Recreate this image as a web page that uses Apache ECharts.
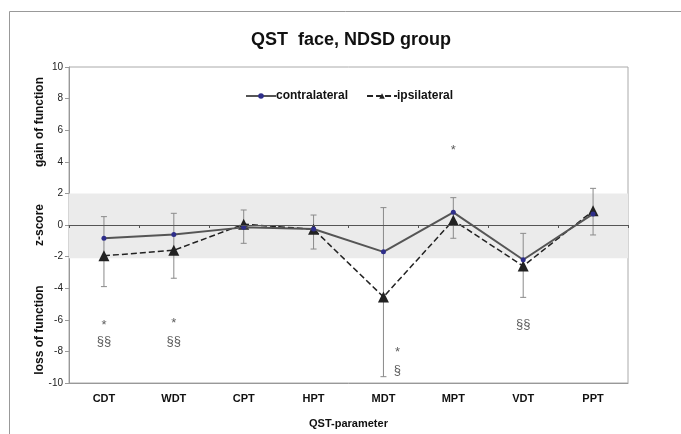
<!DOCTYPE html>
<html>
<head>
<meta charset="utf-8">
<script src="https://cdn.jsdelivr.net/npm/echarts@6/dist/echarts.min.js"></script>
<style>
html, body { margin: 0; padding: 0; background: #fff; }
#chart { width: 681px; height: 434px; }
</style>
</head>
<body>
<div id="chart"></div>
<script>
// QST parameters on the x axis
let categories = ['CDT', 'WDT', 'CPT', 'HPT', 'MDT', 'MPT', 'VDT', 'PPT'];
let yTicks = [-10, -8, -6, -4, -2, 0, 2, 4, 6, 8, 10];

// mean z-scores
let contralateral = [-0.84, -0.6, -0.15, -0.25, -1.7, 0.8, -2.2, 0.7];
let ipsilateral = [-1.95, -1.6, 0.05, -0.27, -4.55, 0.3, -2.6, 0.9];

// error bar ends
let errHigh = [0.53, 0.74, 0.95, 0.63, 1.1, 1.73, -0.53, 2.32];
let errLow = [-3.9, -3.37, -1.16, -1.52, -9.6, -0.84, -4.58, -0.63];

// normal range band
let normalBand = [2, -2.1];

// significance marks
let markCats = ['CDT', 'CDT', 'WDT', 'WDT', 'MDT', 'MDT', 'MPT', 'VDT'];
let markValues = [-6.35, -7.4, -6.2, -7.35, -8.05, -9.2, 4.75, -6.3];
let markTexts = ['*', '§§', '*', '§§', '*', '§', '*', '§§'];

let chart = echarts.init(document.getElementById('chart'));

let errData = categories.map(function (c, i) { return [i, errLow[i], errHigh[i]]; });
let markData = markCats.map(function (c, i) {
    return {
        value: [categories.indexOf(c), markValues[i]],
        text: markTexts[i],
        // MDT marks sit a bit right of the error bar
        label: { offset: [c === 'MDT' ? 14 : 0, 0] }
    };
});

let boldFont = { fontFamily: 'Liberation Sans', fontWeight: 'bold' };

chart.setOption({
    animation: false,
    backgroundColor: '#fff',
    title: {
        text: 'QST  face, NDSD group',
        left: 246,
        top: 26,
        textStyle: { fontFamily: 'Liberation Sans', fontWeight: 'bold', fontSize: 18, color: '#111' }
    },
    legend: {
        data: ['contralateral', 'ipsilateral'],
        top: 85,
        left: 240,
        itemWidth: 30,
        itemHeight: 7,
        itemGap: 18,
        textStyle: { fontFamily: 'Liberation Sans', fontWeight: 'bold', fontSize: 12, color: '#111', padding: [0, 0, 0, -5] }
    },
    grid: {
        left: 69, right: 53, top: 67, bottom: 51,
        show: true, borderColor: '#aaa', borderWidth: 1, backgroundColor: 'transparent'
    },
    xAxis: [{
        type: 'category',
        data: categories,
        position: 'bottom',
        boundaryGap: true,
        axisLine: { onZero: false, lineStyle: { color: '#999' } },
        axisTick: { show: false },
        axisLabel: { fontFamily: 'Liberation Sans', fontWeight: 'bold', fontSize: 11, color: '#111', margin: 10 },
        name: 'QST-parameter',
        nameLocation: 'middle',
        nameGap: 35,
        nameTextStyle: { fontFamily: 'Liberation Sans', fontWeight: 'bold', fontSize: 11, color: '#111' }
    }, {
        // the zero line with its category ticks
        type: 'category',
        data: categories,
        position: 'bottom',
        boundaryGap: true,
        z: 5,
        axisLine: { onZero: true, lineStyle: { color: '#555' } },
        axisTick: { show: true, length: 3, lineStyle: { color: '#555' } },
        axisLabel: { show: false }
    }],
    yAxis: {
        type: 'value',
        min: yTicks[0],
        max: yTicks[yTicks.length - 1],
        interval: 2,
        splitLine: { show: false },
        axisLine: { show: true, lineStyle: { color: '#999' } },
        axisTick: { show: true, length: 4, lineStyle: { color: '#999' } },
        axisLabel: { fontFamily: 'Liberation Sans', fontSize: 10, color: '#222', margin: 6 }
    },
    graphic: [
        { type: 'rect', left: 7, top: 9, shape: { width: 720, height: 480 }, style: { fill: 'none', stroke: '#999', lineWidth: 1 }, silent: true },
        { type: 'text', x: 40, y: 122, rotation: Math.PI / 2, style: Object.assign({ text: 'gain of function', fontSize: 12, align: 'center', verticalAlign: 'middle', fill: '#111' }, boldFont) },
        { type: 'text', x: 40, y: 225, rotation: Math.PI / 2, style: Object.assign({ text: 'z-score', fontSize: 12, align: 'center', verticalAlign: 'middle', fill: '#111' }, boldFont) },
        { type: 'text', x: 40, y: 330, rotation: Math.PI / 2, style: Object.assign({ text: 'loss of function', fontSize: 12, align: 'center', verticalAlign: 'middle', fill: '#111' }, boldFont) }
    ],
    series: [
        {
            name: 'band',
            type: 'line',
            data: [],
            silent: true,
            z: 0,
            markArea: {
                silent: true,
                itemStyle: { color: '#ebebeb' },
                data: [[{ yAxis: normalBand[0] }, { yAxis: normalBand[1] }]]
            },
            markLine: {
                silent: true,
                symbol: 'none',
                label: { show: false },
                lineStyle: { color: '#555', type: 'solid', width: 1 },
                data: [{ yAxis: 0 }]
            }
        },
        {
            name: 'error',
            type: 'custom',
            data: errData,
            z: 1,
            renderItem: function (params, api) {
                let x = api.value(0);
                let low = api.coord([x, api.value(1)]);
                let high = api.coord([x, api.value(2)]);
                let w = 3;
                let st = { stroke: '#8a8a8a', lineWidth: 1 };
                return {
                    type: 'group',
                    children: [
                        { type: 'line', shape: { x1: low[0], y1: low[1], x2: high[0], y2: high[1] }, style: st },
                        { type: 'line', shape: { x1: low[0] - w, y1: low[1], x2: low[0] + w, y2: low[1] }, style: st },
                        { type: 'line', shape: { x1: high[0] - w, y1: high[1], x2: high[0] + w, y2: high[1] }, style: st }
                    ]
                };
            }
        },
        {
            name: 'contralateral',
            type: 'line',
            data: contralateral,
            z: 3,
            symbol: 'circle',
            symbolSize: 5,
            lineStyle: { color: '#555', width: 2 },
            itemStyle: { color: '#2e2e8a', borderWidth: 0 }
        },
        {
            name: 'ipsilateral',
            type: 'line',
            data: ipsilateral,
            z: 2,
            symbol: 'triangle',
            symbolSize: 11,
            lineStyle: { color: '#222', width: 1.5, type: [6, 3] },
            itemStyle: { color: '#222', borderWidth: 0 }
        },
        {
            name: 'marks',
            type: 'scatter',
            data: markData,
            symbolSize: 0,
            z: 4,
            label: {
                show: true,
                position: 'inside',
                fontFamily: 'Liberation Sans',
                fontSize: 13,
                color: '#333',
                formatter: function (p) { return p.data.text; }
            }
        }
    ]
});
</script>
</body>
</html>
